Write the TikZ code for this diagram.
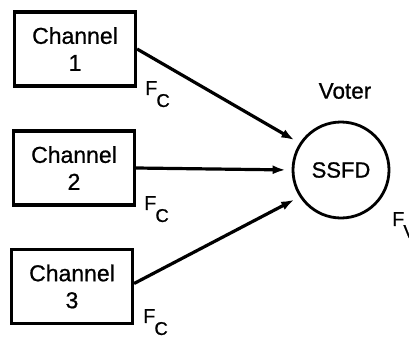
\documentclass[tikz,border=0pt]{standalone}
\usepackage{fontspec}
\setmainfont{Liberation Sans}[FakeBold=0.8]
\usetikzlibrary{arrows.meta}
\newcommand{\subfx}[2]{#1\hspace{-1pt}\raisebox{-12pt}{\fontsize{18.5}{20}\selectfont #2}}
\begin{document}
\begin{tikzpicture}[x=1pt,y=-1pt,
  chanbox/.style={draw, line width=3.2pt, minimum width=121pt, minimum height=74pt,
    inner sep=0pt, align=center, font=\fontsize{23}{27}\selectfont},
  voter/.style={draw, circle, line width=2.8pt, minimum size=96pt, inner sep=0pt,
    font=\fontsize{22}{24}\selectfont},
  feed/.style={line width=3.2pt, -{Latex[length=13pt,width=9pt]}, shorten >=6pt},
  lbl/.style={font=\fontsize{22.5}{24}\selectfont, inner sep=0pt},
  flbl/.style={font=\fontsize{20}{22}\selectfont, inner sep=0pt, anchor=north west}]
  \useasboundingbox (0,0) rectangle (409,343);
  % three channel boxes
  \node[chanbox] (c1) at (75,49) {Channel\\1};
  \node[chanbox] (c2) at (74,168) {Channel\\2};
  \node[chanbox] (c3) at (72,286.5) {Channel\\3};
  % voter
  \node[voter] (v) at (341,170) {SSFD};
  \node[lbl] (vt) at (345,91) {Voter};
  % signal lines into the voter
  \draw[feed] (c1.east) -- (v.147);
  \draw[feed] (c2.east) -- (v.180);
  \draw[feed] (c3.east) ++(0,-3) coordinate (s3) -- (v.213);
  % output labels
  \node[flbl] (f1) at (145,81) {\subfx{F}{C}};
  \node[flbl] (f2) at (144,196) {\subfx{F}{C}};
  \node[flbl] (f3) at (143,309) {\subfx{F}{C}};
  \node[flbl] (fv) at (392,212) {\subfx{F}{V}};
\end{tikzpicture}
\end{document}
